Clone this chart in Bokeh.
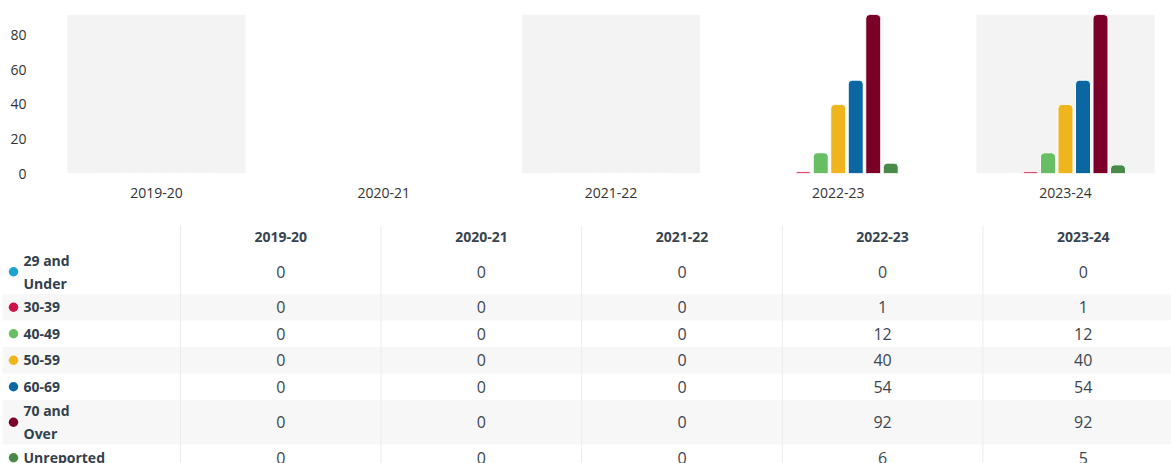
from bokeh.plotting import figure
from bokeh.models import Range1d, FixedTicker, ColumnDataSource
from bokeh.layouts import column
from bokeh.transform import dodge
from bokeh.core.properties import value
from bokeh.embed import file_html
from bokeh.resources import INLINE

# ---------------- data ----------------
years = ["2019-20", "2020-21", "2021-22", "2022-23", "2023-24"]
age_groups = ["29 and Under", "30-39", "40-49", "50-59", "60-69", "70 and Over", "Unreported"]
colors = ["#1ba3d6", "#cc1249", "#68bf63", "#f0b41c", "#0a67a2", "#7a0028", "#4a8a48"]

under_29 = [0, 0, 0, 0, 0]
age_30_39 = [0, 0, 0, 1, 1]
age_40_49 = [0, 0, 0, 12, 12]
age_50_59 = [0, 0, 0, 40, 40]
age_60_69 = [0, 0, 0, 54, 54]
age_70_over = [0, 0, 0, 92, 92]
unreported = [0, 0, 0, 6, 5]
y_ticks = [0, 20, 40, 60, 80]

series = [under_29, age_30_39, age_40_49, age_50_59, age_60_69, age_70_over, unreported]

FONT = "Open Sans"

# ---------------- chart ----------------
idx = list(range(len(years)))
y_max = max(max(s) for s in series)

p = figure(width=1171, height=215, output_backend="svg", toolbar_location=None,
           x_range=Range1d(-0.5017, 4.4665), y_range=Range1d(0, y_max),
           min_border_left=42, min_border_right=0, min_border_top=14, min_border_bottom=42)
p.outline_line_color = None
p.grid.visible = False
p.background_fill_color = "white"
p.border_fill_color = "white"

# alternating bands
band_src = ColumnDataSource(dict(idx=idx[0::2]))
p.vbar(x="idx", top=y_max, bottom=0, width=0.784, source=band_src,
       fill_color="#f3f3f3", line_color=None)

data = {"idx": idx}
for k, s in enumerate(series):
    data[f"g{k}"] = s
src = ColumnDataSource(data)
step = 0.077
for k in range(len(series)):
    p.vbar(x=dodge("idx", (k - 3) * step), top=f"g{k}", bottom=0, width=0.066,
           source=src, fill_color=colors[k], line_color="white", line_width=1,
           border_radius=(4, 4, 0, 0))

p.xaxis.ticker = FixedTicker(ticks=idx)
p.xaxis.major_label_overrides = {i: y for i, y in enumerate(years)}
p.yaxis.ticker = FixedTicker(ticks=y_ticks)
for ax in (p.xaxis[0], p.yaxis[0]):
    ax.axis_line_color = None
    ax.major_tick_line_color = None
    ax.minor_tick_line_color = None
    ax.major_label_text_font = FONT
    ax.major_label_text_font_size = "14px"
    ax.major_label_text_color = "#333333"
p.yaxis.major_label_standoff = 10
p.xaxis.major_label_standoff = 8

# ---------------- table ----------------
TW, TH = 1171, 248
tp = figure(width=TW, height=TH, output_backend="svg", toolbar_location=None,
            x_range=Range1d(0, TW), y_range=Range1d(TH, 0),
            x_axis_location=None, y_axis_location=None,
            min_border_left=0, min_border_right=0, min_border_top=0, min_border_bottom=0)
tp.outline_line_color = None
tp.grid.visible = False
for fig in (p, tp):
    if "frame_align" in fig.properties():
        fig.frame_align = False

label_w = 180
col_w = 200.6
header_top, header_h = 10, 24
line_h, pad = 22, 0.5
n_lines = [2 if " and " in g else 1 for g in age_groups]
row_h = [line_h * n + pad + 4 if n == 1 else line_h * n + pad for n in n_lines]
row_top = []
t = header_top + header_h
for h in row_h:
    row_top.append(t)
    t += h
row_mid = [rt + h / 2 for rt, h in zip(row_top, row_h)]

# striped rows
shade = [i for i in range(len(age_groups)) if i % 2 == 1]
tp.quad(left=2, right=TW, top=[row_top[i] for i in shade],
        bottom=[row_top[i] + row_h[i] for i in shade],
        fill_color="#f7f7f7", line_color=None)

# column dividers
div_x = [label_w + col_w * j for j in range(len(years) + 1)]
tp.segment(x0=div_x, x1=div_x, y0=header_top, y1=TH, line_color="#ececec", line_width=1)

# header
col_x = [label_w + col_w * (j + 0.5) for j in range(len(years))]
tp.text(x=col_x, y=[header_top + header_h / 2 - 1] * len(years), text=years,
        text_font=value(FONT), text_font_size="14px", text_font_style="bold",
        text_color="#384450", text_align="center", text_baseline="middle")

# legend dots and labels
tp.scatter(x=[13] * len(age_groups), y=row_mid, size=9.5, fill_color=colors, line_color=None)
labels = [g.replace(" and ", " and\n") for g in age_groups]
tp.text(x=[23] * len(age_groups), y=row_mid, text=labels,
        text_font=value(FONT), text_font_size="14px", text_font_style="bold",
        text_color="#33404d", text_align="left", text_baseline="middle",
        text_line_height=1.19)

# values
vx, vy, vt = [], [], []
for r, s in enumerate(series):
    for j, v in enumerate(s):
        vx.append(col_x[j])
        vy.append(row_mid[r])
        vt.append(str(v))
tp.text(x=vx, y=vy, text=vt, text_font=value(FONT), text_font_size="16px",
        text_color="#3d4650", text_align="center", text_baseline="middle")

layout = column(p, tp, spacing=0)
open("out.html", "w").write(file_html(layout, INLINE))
